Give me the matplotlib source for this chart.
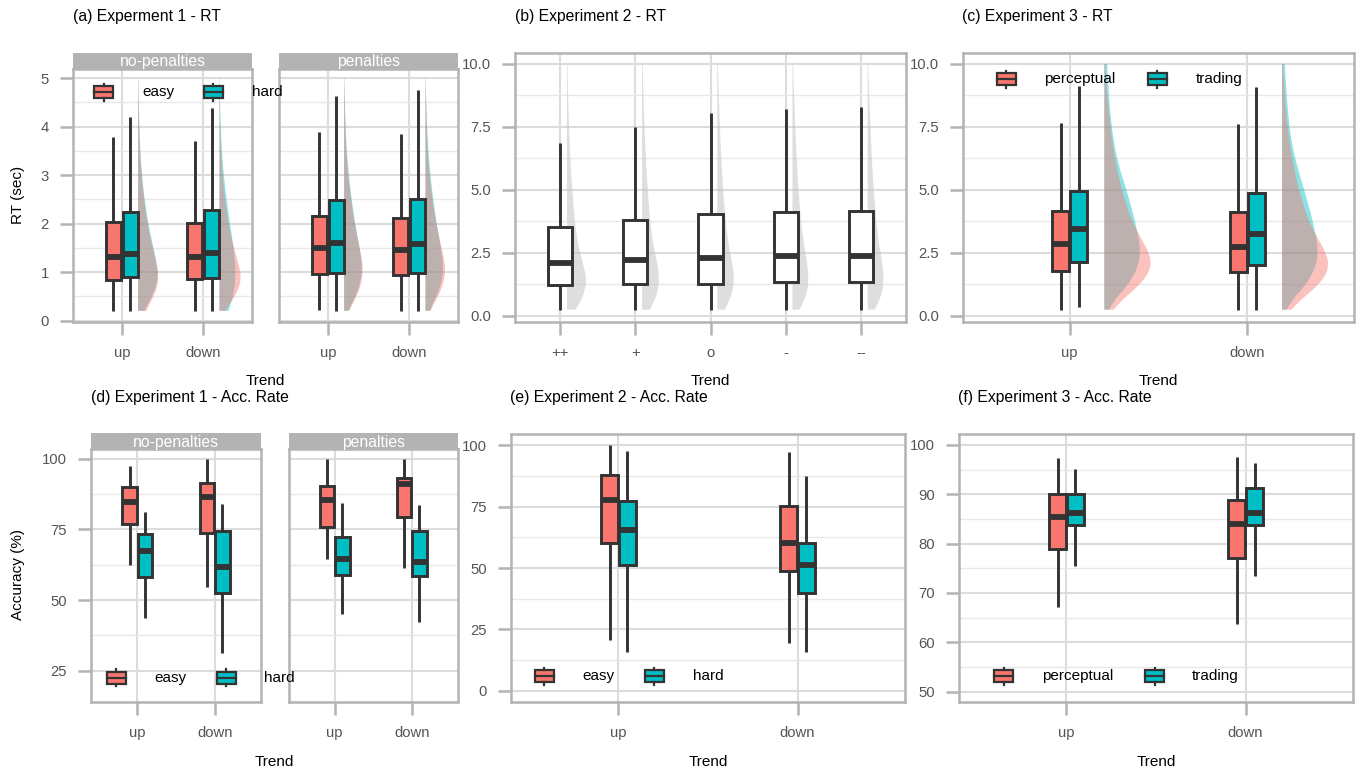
import matplotlib
matplotlib.use('Agg')
import matplotlib.pyplot as plt
from matplotlib.patches import Rectangle, PathPatch
from matplotlib.path import Path
from matplotlib.lines import Line2D
import numpy as np

plt.rcParams['font.family'] = ['Liberation Sans', 'DejaVu Sans']

# ------------------------------------------------------------------ data
TRENDS = ['up', 'down']
E2_TRENDS = ['++', '+', 'o', '-', '--']
E1_GROUPS = ['easy', 'hard']
E3_GROUPS = ['perceptual', 'trading']
FACETS = ['no-penalties', 'penalties']

# box stats: [whisker low, Q1, median, Q3, whisker high] for (up, down)
E1_RT_NOPEN_EASY = [[0.2, 0.84, 1.32, 2.04, 3.78], [0.2, 0.86, 1.32, 2.01, 3.70]]
E1_RT_NOPEN_HARD = [[0.2, 0.90, 1.38, 2.24, 4.20], [0.2, 0.88, 1.40, 2.29, 4.38]]
E1_RT_PEN_EASY = [[0.22, 0.97, 1.49, 2.16, 3.90], [0.2, 0.95, 1.46, 2.11, 3.84]]
E1_RT_PEN_HARD = [[0.2, 0.99, 1.60, 2.48, 4.64], [0.2, 0.99, 1.58, 2.51, 4.75]]

E2_RT_LO = [0.24, 0.24, 0.24, 0.24, 0.24]
E2_RT_Q1 = [1.22, 1.27, 1.27, 1.34, 1.34]
E2_RT_MED = [2.09, 2.22, 2.29, 2.38, 2.38]
E2_RT_Q3 = [3.51, 3.80, 4.03, 4.11, 4.15]
E2_RT_HI = [6.85, 7.50, 8.06, 8.20, 8.29]

E3_RT_PERC = [[0.24, 1.79, 2.85, 4.17, 7.65], [0.24, 1.73, 2.71, 4.12, 7.62]]
E3_RT_TRAD = [[0.35, 2.13, 3.44, 4.97, 9.13], [0.24, 2.02, 3.24, 4.87, 9.08]]

E1_ACC_NOPEN_EASY = [[62.4, 77.0, 84.6, 90.2, 97.5], [54.6, 73.8, 86.6, 91.6, 100.0]]
E1_ACC_NOPEN_HARD = [[43.5, 58.3, 67.5, 73.4, 81.3], [31.1, 52.4, 61.6, 74.3, 84.0]]
E1_ACC_PEN_EASY = [[64.6, 76.0, 85.5, 90.5, 100.0], [61.5, 79.3, 91.1, 93.4, 100.0]]
E1_ACC_PEN_HARD = [[44.9, 58.9, 64.5, 72.3, 84.3], [42.1, 58.7, 63.6, 74.3, 83.7]]

E2_ACC_EASY = [[20.6, 60.0, 77.6, 87.8, 100.0], [19.3, 48.7, 60.2, 75.2, 97.3]]
E2_ACC_HARD = [[15.9, 51.2, 65.4, 77.2, 97.7], [15.9, 39.9, 51.4, 60.2, 87.4]]

E3_ACC_PERC = [[67.2, 78.8, 85.3, 90.0, 97.4], [63.8, 77.1, 83.9, 88.8, 97.6]]
E3_ACC_TRAD = [[75.4, 83.7, 86.2, 90.0, 95.1], [73.4, 83.8, 86.2, 91.3, 96.3]]

# half-violin density profiles (relative width)
E1_DENS_Y = [0.2, 0.35, 0.5, 0.7, 0.9, 1.1, 1.3, 1.6, 2.0, 2.5, 3.0, 3.5, 4.0, 4.5, 5.0]
E1_DENS_NOPEN_EASY = [[0.40, 0.58, 0.76, 0.94, 1.00, 0.95, 0.84, 0.66, 0.46, 0.29, 0.17, 0.09, 0.05, 0.03, 0.01],
                      [0.30, 0.52, 0.76, 0.98, 1.06, 0.98, 0.85, 0.65, 0.44, 0.27, 0.15, 0.08, 0.04, 0.02, 0.01]]
E1_DENS_NOPEN_HARD = [[0.32, 0.50, 0.68, 0.88, 0.97, 0.94, 0.86, 0.70, 0.50, 0.32, 0.19, 0.11, 0.06, 0.03, 0.01],
                      [0.45, 0.56, 0.66, 0.75, 0.78, 0.78, 0.75, 0.66, 0.52, 0.35, 0.21, 0.12, 0.06, 0.03, 0.01]]
E1_DENS_PEN_EASY = [[0.25, 0.42, 0.62, 0.80, 0.90, 0.92, 0.86, 0.72, 0.52, 0.34, 0.20, 0.11, 0.06, 0.03, 0.01],
                    [0.25, 0.42, 0.62, 0.82, 0.95, 0.97, 0.90, 0.74, 0.53, 0.34, 0.20, 0.11, 0.06, 0.03, 0.01]]
E1_DENS_PEN_HARD = [[0.22, 0.38, 0.56, 0.74, 0.85, 0.88, 0.84, 0.72, 0.54, 0.37, 0.23, 0.13, 0.07, 0.04, 0.01],
                    [0.22, 0.36, 0.54, 0.72, 0.84, 0.87, 0.83, 0.72, 0.55, 0.38, 0.24, 0.14, 0.08, 0.04, 0.01]]

E2_DENS_Y = [0.24, 0.5, 1.0, 1.5, 2.0, 2.5, 3.0, 4.0, 5.0, 6.0, 7.0, 8.0, 9.0, 10.0]
E2_DENS = [[0.45, 0.66, 0.93, 1.00, 0.85, 0.68, 0.53, 0.37, 0.28, 0.19, 0.13, 0.09, 0.05, 0.03],
           [0.40, 0.58, 0.82, 0.88, 0.80, 0.66, 0.53, 0.38, 0.29, 0.21, 0.15, 0.10, 0.06, 0.03],
           [0.38, 0.56, 0.80, 0.86, 0.79, 0.66, 0.54, 0.40, 0.30, 0.22, 0.16, 0.11, 0.07, 0.03],
           [0.36, 0.54, 0.77, 0.82, 0.77, 0.66, 0.55, 0.41, 0.31, 0.23, 0.17, 0.12, 0.07, 0.03],
           [0.36, 0.54, 0.77, 0.82, 0.77, 0.66, 0.55, 0.41, 0.31, 0.23, 0.17, 0.12, 0.07, 0.03]]

E3_DENS_Y = [0.24, 0.6, 1.0, 1.5, 2.0, 2.5, 3.0, 3.5, 4.0, 5.0, 6.0, 7.0, 8.0, 9.0, 10.0]
E3_DENS_PERC = [[0.20, 0.36, 0.62, 0.88, 1.00, 0.95, 0.80, 0.66, 0.54, 0.37, 0.25, 0.16, 0.10, 0.05, 0.02],
                [0.20, 0.38, 0.64, 0.90, 1.00, 0.93, 0.78, 0.64, 0.52, 0.36, 0.24, 0.15, 0.09, 0.05, 0.02]]
E3_DENS_TRAD = [[0.10, 0.20, 0.40, 0.60, 0.72, 0.76, 0.74, 0.68, 0.62, 0.47, 0.30, 0.19, 0.13, 0.09, 0.06],
                [0.10, 0.20, 0.40, 0.60, 0.72, 0.76, 0.74, 0.68, 0.62, 0.47, 0.31, 0.19, 0.13, 0.09, 0.06]]

# ------------------------------------------------------------------ style
W, H = 1356, 772
fig = plt.figure(figsize=(W / 100, H / 100), dpi=100)

RED = '#F8766D'
CYAN = '#00BFC4'
DARK = '#333333'
BORDER = '#b3b3b3'
GRID_MAJ = '#dcdcdc'
GRID_MIN = '#e8e8e8'
TICKTXT = '#555555'
FS_TICK = 10.7
FS_TITLE = 11.3
FS_LAB = 11


def add_ax(l, t, r, b):
    return fig.add_axes([l / W, 1 - b / H, (r - l) / W, (b - t) / H])


def style_ax(ax, xlim, ylim, yticks, ylabels, yminor, xlabels, show_y=True):
    ax.set_xlim(*xlim)
    ax.set_ylim(*ylim)
    ax.set_yticks(yticks)
    ax.set_yticklabels(ylabels)
    ax.set_yticks(yminor, minor=True)
    ax.set_xticks(range(1, len(xlabels) + 1))
    ax.set_xticklabels(xlabels)
    ax.grid(True, which='major', color=GRID_MAJ, lw=1.5)
    ax.grid(True, which='minor', axis='y', color=GRID_MIN, lw=1.0)
    ax.set_axisbelow(True)
    for s in ax.spines.values():
        s.set_color(BORDER)
        s.set_linewidth(1.8)
        s.set_zorder(5)
    ax.tick_params(which='major', length=9.4, width=1.8, color=BORDER,
                   labelcolor=TICKTXT, labelsize=FS_TICK, pad=8)
    ax.tick_params(which='minor', length=0)
    if not show_y:
        ax.tick_params(axis='y', length=0, labelleft=False)


def draw_boxes(ax, stats_list, positions, width, color):
    stats = [dict(whislo=s[0], q1=s[1], med=s[2], q3=s[3], whishi=s[4]) for s in stats_list]
    ax.bxp(stats, positions=positions, widths=width, patch_artist=True,
           showfliers=False, showcaps=False, manage_ticks=False, zorder=3,
           boxprops=dict(facecolor=color, edgecolor=DARK, linewidth=2.1),
           whiskerprops=dict(color=DARK, linewidth=2.1, solid_capstyle='butt'),
           medianprops=dict(color=DARK, linewidth=4.2, solid_capstyle='butt'))


def draw_half(ax, x0, ygrid, widths, scale, color, alpha):
    """Half violin: outline drawn as a smooth quadratic-Bezier path through the read points."""
    ys = list(ygrid)
    xs = [x0 + w * scale for w in widths]
    verts = [(x0, ys[0]), (xs[0], ys[0])]
    codes = [Path.MOVETO, Path.LINETO]
    for i in range(1, len(xs) - 1):
        mid = ((xs[i] + xs[i + 1]) / 2, (ys[i] + ys[i + 1]) / 2)
        verts += [(xs[i], ys[i]), mid]
        codes += [Path.CURVE3, Path.CURVE3]
    verts += [(xs[-1], ys[-1]), (x0, ys[-1]), (x0, ys[0])]
    codes += [Path.LINETO, Path.LINETO, Path.CLOSEPOLY]
    ax.add_patch(PathPatch(Path(verts, codes), facecolor=color, alpha=alpha, lw=0, zorder=2))


def strip(l, t, r, b, text):
    s = add_ax(l, t, r, b)
    s.set_facecolor('#b3b3b3')
    s.set_xticks([])
    s.set_yticks([])
    for sp in s.spines.values():
        sp.set_visible(False)
    s.text(0.5, 0.45, text, ha='center', va='center', color='white',
           fontsize=FS_TITLE, transform=s.transAxes)


def legend_key(cx, cy, color):
    w, h = 19, 12
    fig.add_artist(Rectangle(((cx - w / 2) / W, 1 - (cy + h / 2) / H), w / W, h / H,
                             transform=fig.transFigure, facecolor=color,
                             edgecolor=DARK, lw=1.6, zorder=10))
    fig.add_artist(Line2D([(cx - w / 2) / W, (cx + w / 2) / W], [1 - cy / H] * 2,
                          color=DARK, lw=1.6, zorder=11))
    fig.add_artist(Line2D([cx / W] * 2, [1 - (cy - h / 2) / H, 1 - (cy - h / 2 - 2.5) / H],
                          color=DARK, lw=1.6, zorder=11))
    fig.add_artist(Line2D([cx / W] * 2, [1 - (cy + h / 2) / H, 1 - (cy + h / 2 + 2.5) / H],
                          color=DARK, lw=1.6, zorder=11))


def legend(cy, items):
    for (kx, tx, label, color) in items:
        legend_key(kx, cy, color)
        fig.text(tx / W, 1 - cy / H, label, ha='left', va='center', fontsize=FS_LAB,
                 color='black', zorder=12)


def ftext(x, y, s, **kw):
    fig.text(x / W, 1 - y / H, s, **kw)


xs2 = np.arange(1, len(TRENDS) + 1)

# ------------------------------------------------------------------ (a)
a_boxes = [(E1_RT_NOPEN_EASY, E1_RT_NOPEN_HARD, E1_DENS_NOPEN_EASY, E1_DENS_NOPEN_HARD),
           (E1_RT_PEN_EASY, E1_RT_PEN_HARD, E1_DENS_PEN_EASY, E1_DENS_PEN_HARD)]
a_pos = [(73, 252), (279, 458)]
for i, (facet, (l, r)) in enumerate(zip(FACETS, a_pos)):
    ax = add_ax(l, 69, r, 322)
    strip(l, 53.3, r, 69, facet)
    style_ax(ax, (0.4, 2.6), (-0.03, 5.19), [0, 1, 2, 3, 4, 5], ['0', '1', '2', '3', '4', '5'],
             [0.5, 1.5, 2.5, 3.5, 4.5], TRENDS, show_y=(i == 0))
    easy, hard, de, dh = a_boxes[i]
    for j in range(len(TRENDS)):
        draw_half(ax, xs2[j] + 0.2, E1_DENS_Y, dh[j], 0.25, CYAN, 0.45)
        draw_half(ax, xs2[j] + 0.2, E1_DENS_Y, de[j], 0.25, RED, 0.45)
    draw_boxes(ax, easy, xs2 - 0.105, 0.18, RED)
    draw_boxes(ax, hard, xs2 + 0.105, 0.18, CYAN)

# ------------------------------------------------------------------ (b)
ax = add_ax(515, 53.3, 906, 322)
style_ax(ax, (0.4, 5.6), (-0.25, 10.42), [0, 2.5, 5, 7.5, 10],
         ['0.0', '2.5', '5.0', '7.5', '10.0'], [1.25, 3.75, 6.25, 8.75], E2_TRENDS)
xs5 = np.arange(1, len(E2_TRENDS) + 1)
for j in range(len(E2_TRENDS)):
    draw_half(ax, xs5[j] + 0.09, E2_DENS_Y, E2_DENS[j], 0.26, '#c4c4c4', 0.55)
e2_stats = [[E2_RT_LO[k], E2_RT_Q1[k], E2_RT_MED[k], E2_RT_Q3[k], E2_RT_HI[k]]
            for k in range(len(E2_TRENDS))]
draw_boxes(ax, e2_stats, xs5, 0.32, 'white')

# ------------------------------------------------------------------ (c)
ax = add_ax(963, 53.3, 1354, 322)
style_ax(ax, (0.4, 2.6), (-0.25, 10.42), [0, 2.5, 5, 7.5, 10],
         ['0.0', '2.5', '5.0', '7.5', '10.0'], [1.25, 3.75, 6.25, 8.75], TRENDS)
for j in range(len(TRENDS)):
    draw_half(ax, xs2[j] + 0.195, E3_DENS_Y, E3_DENS_TRAD[j], 0.265, CYAN, 0.45)
    draw_half(ax, xs2[j] + 0.195, E3_DENS_Y, E3_DENS_PERC[j], 0.265, RED, 0.45)
draw_boxes(ax, E3_RT_PERC, xs2 - 0.05, 0.095, RED)
draw_boxes(ax, E3_RT_TRAD, xs2 + 0.05, 0.095, CYAN)

# ------------------------------------------------------------------ (d)
d_boxes = [(E1_ACC_NOPEN_EASY, E1_ACC_NOPEN_HARD), (E1_ACC_PEN_EASY, E1_ACC_PEN_HARD)]
d_pos = [(91, 261), (288.5, 458)]
for i, (facet, (l, r)) in enumerate(zip(FACETS, d_pos)):
    ax = add_ax(l, 449.3, r, 702)
    strip(l, 433.3, r, 449.3, facet)
    style_ax(ax, (0.4, 2.6), (13.9, 103.4), [25, 50, 75, 100], ['25', '50', '75', '100'],
             [37.5, 62.5, 87.5], TRENDS, show_y=(i == 0))
    easy, hard = d_boxes[i]
    draw_boxes(ax, easy, xs2 - 0.1, 0.19, RED)
    draw_boxes(ax, hard, xs2 + 0.1, 0.19, CYAN)

# ------------------------------------------------------------------ (e)
ax = add_ax(511, 434, 905, 702)
style_ax(ax, (0.4, 2.6), (-4.5, 104.5), [0, 25, 50, 75, 100], ['0', '25', '50', '75', '100'],
         [12.5, 37.5, 62.5, 87.5], TRENDS)
draw_boxes(ax, E2_ACC_EASY, xs2 - 0.05, 0.094, RED)
draw_boxes(ax, E2_ACC_HARD, xs2 + 0.05, 0.094, CYAN)

# ------------------------------------------------------------------ (f)
ax = add_ax(959, 434, 1353, 702)
style_ax(ax, (0.4, 2.6), (47.9, 102.2), [50, 60, 70, 80, 90, 100],
         ['50', '60', '70', '80', '90', '100'], [55, 65, 75, 85, 95], TRENDS)
draw_boxes(ax, E3_ACC_PERC, xs2 - 0.05, 0.095, RED)
draw_boxes(ax, E3_ACC_TRAD, xs2 + 0.05, 0.095, CYAN)

# ------------------------------------------------------------------ legends
legend(92.3, [(103.8, 142.3, E1_GROUPS[0], RED), (213.3, 252.3, E1_GROUPS[1], CYAN)])
legend(79.3, [(1006, 1044, E3_GROUPS[0], RED), (1157, 1195.7, E3_GROUPS[1], CYAN)])
legend(677.7, [(116.2, 154, E1_GROUPS[0], RED), (226.3, 264.3, E1_GROUPS[1], CYAN)])
legend(676, [(544.3, 582.3, E1_GROUPS[0], RED), (654, 692.7, E1_GROUPS[1], CYAN)])
legend(676, [(1003.7, 1041.7, E3_GROUPS[0], RED), (1154.7, 1192.3, E3_GROUPS[1], CYAN)])

# ------------------------------------------------------------------ titles & labels
ftext(72.7, 16, '(a) Experment 1 - RT', ha='left', va='center', fontsize=FS_TITLE)
ftext(515, 16, '(b) Experiment 2 - RT', ha='left', va='center', fontsize=FS_TITLE)
ftext(962, 16, '(c) Experiment 3 - RT', ha='left', va='center', fontsize=FS_TITLE)
ftext(91, 397, '(d) Experiment 1 - Acc. Rate', ha='left', va='center', fontsize=FS_TITLE)
ftext(510, 397, '(e) Experiment 2 - Acc. Rate', ha='left', va='center', fontsize=FS_TITLE)
ftext(958, 397, '(f) Experiment 3 - Acc. Rate', ha='left', va='center', fontsize=FS_TITLE)

for x in (265.5, 710.5, 1158.5):
    ftext(x, 381, 'Trend', ha='center', va='center', fontsize=FS_LAB)
for x in (274.5, 708, 1156):
    ftext(x, 761.7, 'Trend', ha='center', va='center', fontsize=FS_LAB)
ftext(18, 195, 'RT (sec)', ha='center', va='center', rotation=90, fontsize=FS_LAB)
ftext(18, 575, 'Accuracy (%)', ha='center', va='center', rotation=90, fontsize=FS_LAB)

fig.savefig('out.png', dpi=100, facecolor='white')
